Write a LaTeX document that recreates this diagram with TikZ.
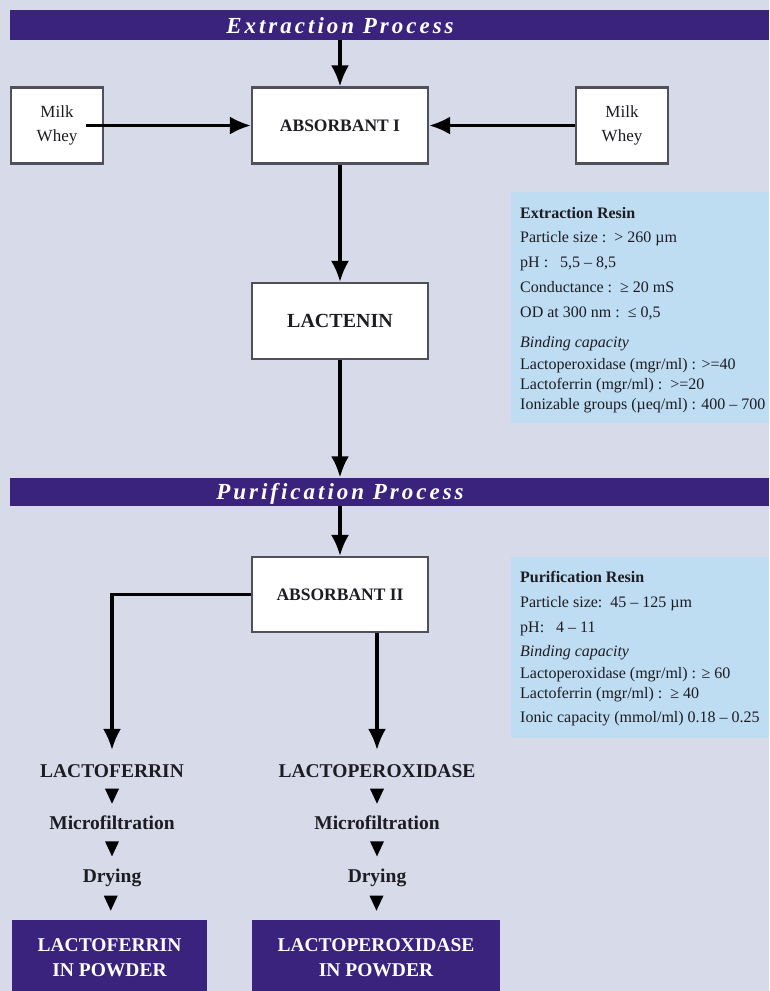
\documentclass[tikz,border=0pt]{standalone}
\usepackage{fontspec}
\setmainfont{Liberation Serif}
\newfontfamily\banfont[LetterSpace=13]{Liberation Serif}
\usetikzlibrary{arrows.meta,calc}
\definecolor{bg}{RGB}{215,218,233}
\definecolor{ban}{RGB}{58,35,125}
\definecolor{infob}{RGB}{190,221,242}
\definecolor{boxgray}{RGB}{80,80,90}
\definecolor{ink}{RGB}{28,28,34}
\begin{document}
\begin{tikzpicture}[x=1pt,y=-1pt,
  bar/.style={fill=ban, draw=none, inner sep=0pt, minimum width=759pt, minimum height=#1},
  bartext/.style={text=white, inner sep=0pt, anchor=base, font=\banfont\bfseries\itshape\fontsize{23}{25}\selectfont},
  flowbox/.style={draw=boxgray, line width=2.2pt, fill=white, inner sep=0pt, minimum height=76pt, text=ink},
  bigbox/.style={flowbox, minimum width=176pt, font=\bfseries\fontsize{17.5}{20}\selectfont},
  milkbox/.style={flowbox, minimum width=92pt, align=center, font=\fontsize{17}{24}\selectfont},
  steptext/.style={text=ink, inner sep=0pt, anchor=base, font=\bfseries\fontsize{19.5}{22}\selectfont},
  powder/.style={fill=ban, draw=none, inner sep=0pt, minimum height=75pt, text=white, align=center, font=\bfseries\fontsize{19.5}{25}\selectfont},
  infobox/.style={fill=infob, draw=none, inner sep=0pt, minimum width=258pt, minimum height=#1, anchor=north west},
  info/.style={text=ink, inner sep=0pt, anchor=base west, font=\fontsize{16}{18}\selectfont},
  arr/.style={line width=3.1pt, draw=black, -{Latex[length=21pt,width=18pt]}},
  tri/.style={fill=black}
]
\fill[bg] (0,0) rectangle (769,991);
\useasboundingbox (0,0) rectangle (769,991);

% banners
\node[bar=30pt] (ban1) at (389.5,25) {};
\node[bartext] (ban1t) at (340,33) {Extraction Process};
\node[bar=28pt] (ban2) at (389.5,491.5) {};
\node[bartext] (ban2t) at (340,499) {Purification Process};

% info boxes
\node[infobox=231pt] (inf1) at (511,192) {};
\node[info, font=\bfseries\fontsize{16}{18}\selectfont] (e1) at (520,218) {Extraction Resin};
\node[info] (e2) at (520,242) {Particle size :\ \ > 260 µm};
\node[info] (e3) at (520,267) {pH :\ \ \ 5,5 – 8,5};
\node[info] (e4) at (520,292) {Conductance :\ \ ≥ 20 mS};
\node[info] (e5) at (520,317) {OD at 300 nm :\ \ ≤ 0,5};
\node[info, font=\itshape\fontsize{16}{18}\selectfont] (e6) at (520,347) {Binding capacity};
\node[info] (e7) at (520,369) {Lactoperoxidase (mgr/ml) : >=40};
\node[info] (e8) at (520,389) {Lactoferrin (mgr/ml) :\ \ >=20};
\node[info] (e9) at (520,409) {Ionizable groups (µeq/ml) : 400 – 700};

\node[infobox=181pt] (inf2) at (511,557) {};
\node[info, font=\bfseries\fontsize{16}{18}\selectfont] (p1) at (520,582) {Purification Resin};
\node[info] (p2) at (520,607) {Particle size:\ \ 45 – 125 µm};
\node[info] (p3) at (520,632) {pH:\ \ \ 4 – 11};
\node[info, font=\itshape\fontsize{16}{18}\selectfont] (p4) at (520,656) {Binding capacity};
\node[info] (p5) at (520,678) {Lactoperoxidase (mgr/ml) : ≥ 60};
\node[info] (p6) at (520,698) {Lactoferrin (mgr/ml) :\ \ ≥ 40};
\node[info] (p7) at (520,722) {Ionic capacity (mmol/ml) 0.18 – 0.25};

% extraction flow
\node[milkbox] (milkL) at (57,125.5) {Milk\\Whey};
\node[bigbox] (abs1) at (340,125.5) {ABSORBANT I};
\node[milkbox] (milkR) at (622,125.5) {Milk\\Whey};
\node[bigbox, font=\bfseries\fontsize{20}{22}\selectfont] (lact) at (340,321) {LACTENIN};

\draw[arr] (abs1.north |- ban1.south) -- (abs1.north);
\draw[arr] ([xshift=-18pt]milkL.east) -- (abs1.west);
\draw[arr] (milkR.west) -- (abs1.east);
\draw[arr] (abs1.south) -- (lact.north);
\draw[arr] (lact.south) -- (lact.south |- ban2.north);

% purification flow
\node[bigbox, minimum height=75pt] (abs2) at (340,594.5) {ABSORBANT II};
\draw[arr] (abs2.north |- ban2.south) -- (abs2.north);

\node[steptext] (lf) at (112,777) {LACTOFERRIN};
\node[steptext] (mf1) at (112,829) {Microfiltration};
\node[steptext] (dr1) at (112,882) {Drying};
\node[powder, minimum width=195pt] (lfp) at (109.5,957.5) {LACTOFERRIN\\IN POWDER};

\node[steptext] (lp) at (377,777) {LACTOPEROXIDASE};
\node[steptext] (mf2) at (377,829) {Microfiltration};
\node[steptext] (dr2) at (377,882) {Drying};
\node[powder, minimum width=248pt] (lpp) at (376,957.5) {LACTOPEROXIDASE\\IN POWDER};

\draw[arr, shorten >=14pt] (abs2.west) -| (lf.north);
\draw[arr, shorten >=14pt] (lp.north |- abs2.south) -- (lp.north);

% small step triangles
\foreach \a/\b in {lf/mf1, mf1/dr1, dr1/lfp, lp/mf2, mf2/dr2, dr2/lpp}{
  \fill[tri] ($(\a.south)!0.5!(\b.north)$) ++(-7,-7.5) -- ++(14,0) -- ++(-7,15) -- cycle;
}
\end{tikzpicture}
\end{document}
